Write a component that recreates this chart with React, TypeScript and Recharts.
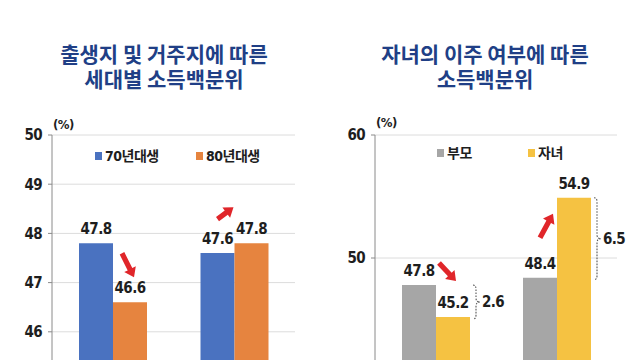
import React from 'react';
import { BarChart, Bar, XAxis, YAxis, CartesianGrid, LabelList, Legend } from 'recharts';

// ---------- data ----------
const cohortCategories = ['출생지 기준', '거주지 기준'];
const cohortSeriesNames = ['70년대생', '80년대생'];
const born70s = [47.8, 47.6];
const born80s = [46.6, 47.8];
const cohortTicks = [46, 47, 48, 49, 50];

const migrationCategories = ['비이주', '이주'];
const migrationSeriesNames = ['부모', '자녀'];
const parents = [47.8, 48.4];
const children = [45.2, 54.9];
const migrationTicks = [50, 60];

const leftTitle = ['출생지 및 거주지에 따른', '세대별 소득백분위'];
const rightTitle = ['자녀의 이주 여부에 따른', '소득백분위'];
const unitLabel = '(%)';

// ---------- styles ----------
const NARROW = "'Liberation Sans Narrow', 'Arial Narrow', 'DejaVu Sans Condensed', 'Liberation Sans', 'Noto Sans CJK KR', sans-serif";
const KR = "'Noto Sans CJK KR', 'Noto Sans', sans-serif";
const TEXT = '#1e1e1e';
const TITLE = '#203F86';
const ARROW = '#E0262A';
const COLORS = { blue: '#4A72C0', orange: '#E6843F', grey: '#A6A6A6', yellow: '#F5C242' };

const cohortData = cohortCategories.map((c, i) => ({ cat: c, a: born70s[i], b: born80s[i] }));
const migrationData = migrationCategories.map((c, i) => ({ cat: c, a: parents[i], b: children[i] }));

type ArrowCfg = { sx: number; sy: number; ex: number; ey: number };

function arrowPoints(x1: number, y1: number, x2: number, y2: number) {
  const dx = x2 - x1, dy = y2 - y1;
  const L = Math.hypot(dx, dy) || 1;
  const ux = dx / L, uy = dy / L;
  const nx = -uy, ny = ux;
  const sw = 2.6, hw = 6.5, hl = 9;
  const neckX = x2 - ux * hl, neckY = y2 - uy * hl;
  const pts = [
    [x1 + nx * sw, y1 + ny * sw],
    [neckX + nx * sw, neckY + ny * sw],
    [neckX + nx * hw, neckY + ny * hw],
    [x2, y2],
    [neckX - nx * hw, neckY - ny * hw],
    [neckX - nx * sw, neckY - ny * sw],
    [x1 - nx * sw, y1 - ny * sw],
  ];
  return pts.map((p) => p.map((v) => v.toFixed(1)).join(',')).join(' ');
}

const numFont = { fontSize: 15, fontWeight: 700, letterSpacing: -0.6, fill: TEXT, fontFamily: NARROW };

function makeAnnotation(min: number, first: number[], second: number[], arrows: ArrowCfg[], brace: boolean) {
  return (props: any) => {
    const vb = props.viewBox ?? props;
    const x = Number(vb.x), y = Number(vb.y), w = Number(vb.width), h = Number(vb.height);
    let idx = typeof props.index === 'number' ? props.index : second.indexOf(Number(props.value));
    if (idx < 0 || !Number.isFinite(x)) return null;
    const v1 = first[idx], v2 = second[idx];
    const bottom = y + h;
    const ppu = h / (v2 - min);
    const y1 = bottom - (v1 - min) * ppu;
    const y2 = y;
    const a = arrows[idx];
    const els: React.ReactNode[] = [];
    if (a) {
      els.push(
        <polygon key="arr" points={arrowPoints(x + a.sx, y1 + a.sy, x + a.ex, y2 + a.ey)} fill={ARROW} />
      );
    }
    if (brace) {
      const x0 = x + w + 3;
      const top = Math.min(y1, y2);
      const bot = Math.max(y1, y2) + 2;
      const mid = (top + bot) / 2;
      const r = 4;
      const d = `M${x0},${top} Q${x0 + 3},${top} ${x0 + 3},${top + r} L${x0 + 3},${mid - r} Q${x0 + 3},${mid} ${x0 + 7},${mid} Q${x0 + 3},${mid} ${x0 + 3},${mid + r} L${x0 + 3},${bot - r} Q${x0 + 3},${bot} ${x0},${bot}`;
      els.push(
        <path key="br" d={d} fill="none" stroke="#555" strokeWidth={1.1} strokeDasharray="1.6 1.4" />
      );
      els.push(
        <text key="bt" x={x0 + 9} y={mid} dy="0.35em" style={numFont}>
          {Math.abs(v2 - v1).toFixed(1)}
        </text>
      );
    }
    return <g>{els}</g>;
  };
}

const cohortArrows: ArrowCfg[] = [
  { sx: 9, sy: 10, ex: 21, ey: -25 },
  { sx: -17, sy: -34, ex: -1, ey: -36 },
];
const migrationArrows: ArrowCfg[] = [
  { sx: 3, sy: -22, ex: 20, ey: -36 },
  { sx: -17, sy: -40, ex: -4, ey: 16 },
];

function makeLegend(itemWidth: number) {
  return (props: any) => {
    const payload = props.payload || [];
    return (
      <div style={{ display: 'flex', alignItems: 'center' }}>
        {payload.map((p: any, i: number) => (
          <div key={i} style={{ width: itemWidth, display: 'flex', alignItems: 'center' }}>
            <span style={{ display: 'inline-block', width: 7, height: 8, background: p.color, marginRight: 3 }} />
            <span style={{ fontSize: 14, fontWeight: 700, letterSpacing: -0.5, color: TEXT, fontFamily: NARROW, lineHeight: '16px' }}>{p.value}</span>
          </div>
        ))}
      </div>
    );
  };
}

function Title({ lines, cx }: { lines: string[]; cx: number }) {
  return (
    <div
      style={{
        position: 'absolute',
        left: cx - 150,
        top: 41,
        width: 300,
        textAlign: 'center',
        fontFamily: KR,
        fontWeight: 700,
        fontSize: 21,
        lineHeight: '25px',
        color: TITLE,
        whiteSpace: 'nowrap',
      }}
    >
      {lines.map((l, i) => (
        <div key={i}>{l}</div>
      ))}
    </div>
  );
}

function Unit({ left, top }: { left: number; top: number }) {
  return (
    <div style={{ position: 'absolute', left, top, fontSize: 13, fontWeight: 700, letterSpacing: -0.5, fontFamily: NARROW, color: TEXT, lineHeight: '14px' }}>
      {unitLabel}
    </div>
  );
}

export default function App() {
  return (
    <div style={{ position: 'fixed', left: 0, top: 0, width: 640, height: 360, overflow: 'hidden', background: '#fff' }}>
      <div style={{ position: 'absolute', left: 0, top: 0 }}>
        <BarChart width={320} height={400} data={cohortData} margin={{ top: 135, right: 25, bottom: 19, left: 0 }} barGap={0} barSize={34}>
          <CartesianGrid vertical={false} stroke="#dcdcdc" />
          <XAxis dataKey="cat" hide />
          <YAxis
            domain={[45, 50]}
            ticks={cohortTicks}
            width={52}
            tick={numFont}
            tickSize={4}
            tickMargin={6}
            axisLine={{ stroke: '#8a8a8a' }}
            tickLine={{ stroke: '#8a8a8a' }}
            interval={0}
          />
          <Legend
            layout="horizontal"
            verticalAlign="middle"
            align="center"
            content={makeLegend(101)}
            wrapperStyle={{ top: 148, left: 95, width: 220, bottom: 'auto', right: 'auto' }}
          />
          <Bar dataKey="a" name={cohortSeriesNames[0]} fill={COLORS.blue} isAnimationActive={false}>
            <LabelList dataKey="a" position="top" offset={9} style={numFont} />
          </Bar>
          <Bar dataKey="b" name={cohortSeriesNames[1]} fill={COLORS.orange} isAnimationActive={false}>
            <LabelList dataKey="b" position="top" offset={9} style={numFont} />
            <LabelList dataKey="b" content={makeAnnotation(45, born70s, born80s, cohortArrows, false)} />
          </Bar>
        </BarChart>
      </div>
      <div style={{ position: 'absolute', left: 320, top: 0 }}>
        <BarChart width={320} height={400} data={migrationData} margin={{ top: 135, right: 23, bottom: 19, left: 0 }} barGap={0} barSize={34}>
          <CartesianGrid vertical={false} stroke="#dcdcdc" />
          <XAxis dataKey="cat" hide />
          <YAxis
            domain={[40, 60]}
            ticks={migrationTicks}
            width={55}
            tick={numFont}
            tickSize={4}
            tickMargin={6}
            axisLine={{ stroke: '#8a8a8a' }}
            tickLine={{ stroke: '#8a8a8a' }}
            interval={0}
          />
          <Legend
            layout="horizontal"
            verticalAlign="middle"
            align="center"
            content={makeLegend(91)}
            wrapperStyle={{ top: 145, left: 117, width: 200, bottom: 'auto', right: 'auto' }}
          />
          <Bar dataKey="a" name={migrationSeriesNames[0]} fill={COLORS.grey} isAnimationActive={false}>
            <LabelList dataKey="a" position="top" offset={9} style={numFont} />
          </Bar>
          <Bar dataKey="b" name={migrationSeriesNames[1]} fill={COLORS.yellow} isAnimationActive={false}>
            <LabelList dataKey="b" position="top" offset={9} style={numFont} />
            <LabelList dataKey="b" content={makeAnnotation(40, parents, children, migrationArrows, true)} />
          </Bar>
        </BarChart>
      </div>
      <Title lines={leftTitle} cx={164} />
      <Title lines={rightTitle} cx={485} />
      <Unit left={53} top={118} />
      <Unit left={376} top={116} />
    </div>
  );
}
